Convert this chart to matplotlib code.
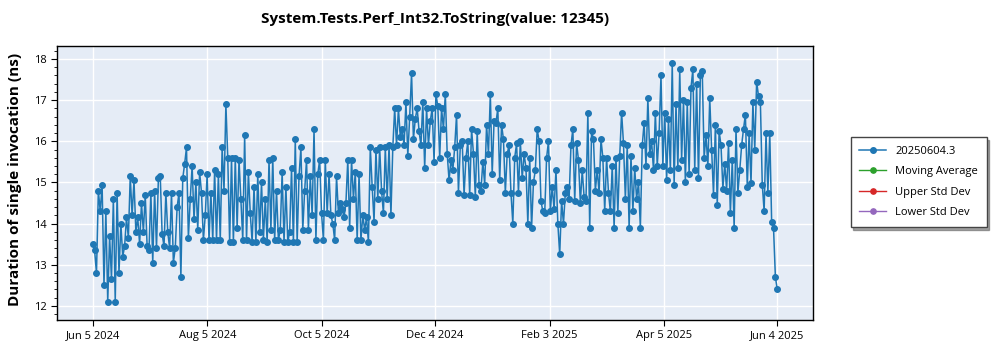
import numpy as np
import pandas as pd
import matplotlib
matplotlib.use("Agg")
import matplotlib.pyplot as plt
from matplotlib.ticker import MultipleLocator

plt.rcParams['font.family'] = ['Open Sans', 'DejaVu Sans']

title = "System.Tests.Perf_Int32.ToString(value: 12345)"
series_name = "20250604.3"
empty_series = ["Moving Average", "Upper Std Dev", "Lower Std Dev"]
start_date = "2024-06-05"
end_date = "2025-06-04"

# one reading per day (ns)
jun_2024 = [13.5, 13.35, 12.8, 14.8, 14.3, 14.95, 12.5, 14.3, 12.1, 13.7,
            12.65, 14.6, 12.1, 14.75, 12.8, 14.0, 13.2, 13.45, 14.15, 13.65,
            15.15, 14.2, 15.05, 13.8, 14.15, 13.5, 14.5, 13.8, 14.7, 13.45]
jul_2024 = [13.35, 14.75, 13.05, 14.8, 13.4, 15.1, 15.15, 13.75, 13.45, 14.75,
            13.8, 13.4, 14.75, 13.05, 13.4, 14.4, 14.75, 12.7, 15.1, 15.45,
            15.85, 13.65, 14.6, 15.4, 14.1, 15.0, 13.85, 15.25, 14.75, 13.6, 14.2]
aug_2024 = [15.2, 13.6, 14.75, 13.6, 15.3, 13.6, 15.2, 13.6, 15.85, 14.8,
            16.9, 15.6, 13.55, 15.6, 13.55, 15.6, 13.9, 15.55, 14.6, 13.6,
            16.15, 13.6, 15.25, 14.25, 13.55, 14.9, 13.55, 15.2, 13.8, 15.0, 13.6]
sep_2024 = [14.6, 13.55, 15.55, 13.85, 15.6, 13.6, 14.8, 13.6, 13.85, 15.25,
            13.55, 14.9, 13.55, 13.8, 15.35, 13.55, 16.05, 13.55, 15.15, 15.85,
            13.85, 14.8, 15.55, 13.85, 15.15, 14.2, 16.3, 13.6, 15.2, 15.55, 14.25]
oct_2024 = [13.6, 15.55, 14.25, 15.2, 14.2, 14.0, 13.6, 15.15, 14.25, 14.5,
            14.35, 14.15, 14.5, 15.55, 13.9, 15.55, 14.6, 15.25, 13.6, 15.2,
            13.6, 14.2, 13.85, 14.15, 13.55, 15.85, 14.9, 14.05, 15.8, 14.6]
nov_2024 = [15.85, 14.8, 14.25, 15.85, 14.6, 15.9, 14.2, 15.85, 16.8, 15.9,
            16.8, 16.1, 16.3, 15.9, 16.95, 15.65, 16.6, 17.65, 16.05, 16.55,
            16.8, 16.25, 15.9, 16.95, 15.35, 16.8, 15.9, 16.5, 16.8, 15.5]
dec_2024 = [17.15, 16.85, 15.6, 16.8, 16.3, 17.15, 15.7, 15.05, 15.55, 15.3,
            15.85, 16.65, 14.75, 15.9, 16.0, 14.7, 15.6, 16.0, 14.7, 16.3,
            15.7, 14.65, 16.25, 14.95, 14.8, 15.5, 14.95, 16.4, 15.7, 17.15, 15.2]
jan_2025 = [16.5, 16.45, 16.8, 15.05, 16.4, 16.05, 14.75, 15.7, 15.9, 14.75,
            14.0, 15.6, 15.95, 14.75, 16.0, 15.1, 15.7, 15.35, 14.0, 15.6,
            13.9, 15.0, 15.3, 16.3, 16.0, 14.55, 14.3, 14.25, 15.6, 16.0, 14.3]
feb_2025 = [14.9, 14.35, 15.3, 14.0, 13.25, 14.55, 14.0, 14.75, 14.9, 14.6,
            15.9, 16.3, 14.55, 15.95, 15.55, 14.5, 15.3, 14.65, 14.55, 16.7,
            13.9, 16.25, 16.05, 14.8, 15.3, 14.75, 16.05, 15.6, 14.3]
mar_2025 = [15.6, 14.75, 14.3, 15.4, 13.9, 15.6, 14.25, 15.65, 16.7, 15.95,
            14.6, 15.9, 13.9, 15.65, 14.3, 15.35, 14.6, 15.0, 13.9, 15.9,
            16.45, 15.4, 17.05, 15.7, 16.0, 15.3, 16.7, 15.4, 16.2, 17.6, 15.4]
apr_2025 = [16.7, 15.05, 16.55, 15.3, 17.9, 14.95, 16.9, 15.35, 17.75, 15.55,
            17.0, 15.0, 16.95, 15.2, 17.3, 17.75, 15.3, 17.4, 15.1, 17.6,
            17.7, 15.6, 16.15, 15.4, 17.05, 15.8, 14.7, 16.4, 14.45, 16.25]
may_2025 = [15.9, 14.85, 15.45, 14.8, 15.95, 14.25, 15.55, 13.9, 16.3, 14.75,
            15.3, 15.9, 16.3, 16.65, 14.9, 16.2, 14.98, 16.95, 15.8, 17.45,
            17.1, 16.95, 14.95, 14.3, 16.2, 14.75, 16.2, 14.05, 13.9, 12.7, 12.4]

values = np.concatenate([jun_2024, jul_2024, aug_2024, sep_2024, oct_2024, nov_2024,
                         dec_2024, jan_2025, feb_2025, mar_2025, apr_2025, may_2025])
dates = pd.date_range(start_date, end_date, periods=len(values))

tick_dates = pd.to_datetime(["2024-06-05", "2024-08-05", "2024-10-05", "2024-12-04",
                             "2025-02-03", "2025-04-05", "2025-06-04"])
tick_labels = ["Jun 5 2024", "Aug 5 2024", "Oct 5 2024", "Dec 4 2024",
               "Feb 3 2025", "Apr 5 2025", "Jun 4 2025"]
legend_colors = ["#2ca02c", "#d62728", "#9467bd"]

fig = plt.figure(figsize=(10, 3.5), dpi=100)
ax = fig.add_axes([0.057, 0.086, 0.756, 0.783])
ax.set_facecolor("#E5ECF6")

ax.plot(dates, values, color="#1f77b4", lw=1.1, marker="o", ms=4.0,
        label=series_name)
for name, c in zip(empty_series, legend_colors):
    ax.plot([], [], color=c, lw=1.0, marker="o", ms=3.8, label=name)

ax.set_xlim(pd.Timestamp("2024-05-17"), pd.Timestamp("2025-06-23"))
ax.set_ylim(11.66, 18.32)
ax.set_xticks(tick_dates)
ax.set_xticklabels(tick_labels)
ax.yaxis.set_major_locator(MultipleLocator(1))
ax.yaxis.set_minor_locator(MultipleLocator(0.2))
ax.tick_params(axis="both", labelsize=8, color="black", length=4)
ax.tick_params(axis="y", which="minor", length=2.5)
ax.grid(True, color="white", lw=1.0)
ax.set_axisbelow(True)
for s in ax.spines.values():
    s.set_color("black")
    s.set_linewidth(1.0)

fig.text(0.435, 0.947, title, ha="center", va="center", fontsize=11,
         fontweight="bold")
fig.text(0.015, 0.486, "Duration of single invocation (ns)", rotation=90,
         ha="center", va="center", fontsize=11, fontweight="bold")

handles, labels = ax.get_legend_handles_labels()
fig.legend(handles, labels, loc="upper left", bbox_to_anchor=(0.845, 0.625),
           fontsize=8, frameon=True, fancybox=False, shadow=True,
           edgecolor="#444444", labelspacing=0.85, handlelength=2.4,
           borderpad=0.8)

fig.savefig("out.png", dpi=100)
